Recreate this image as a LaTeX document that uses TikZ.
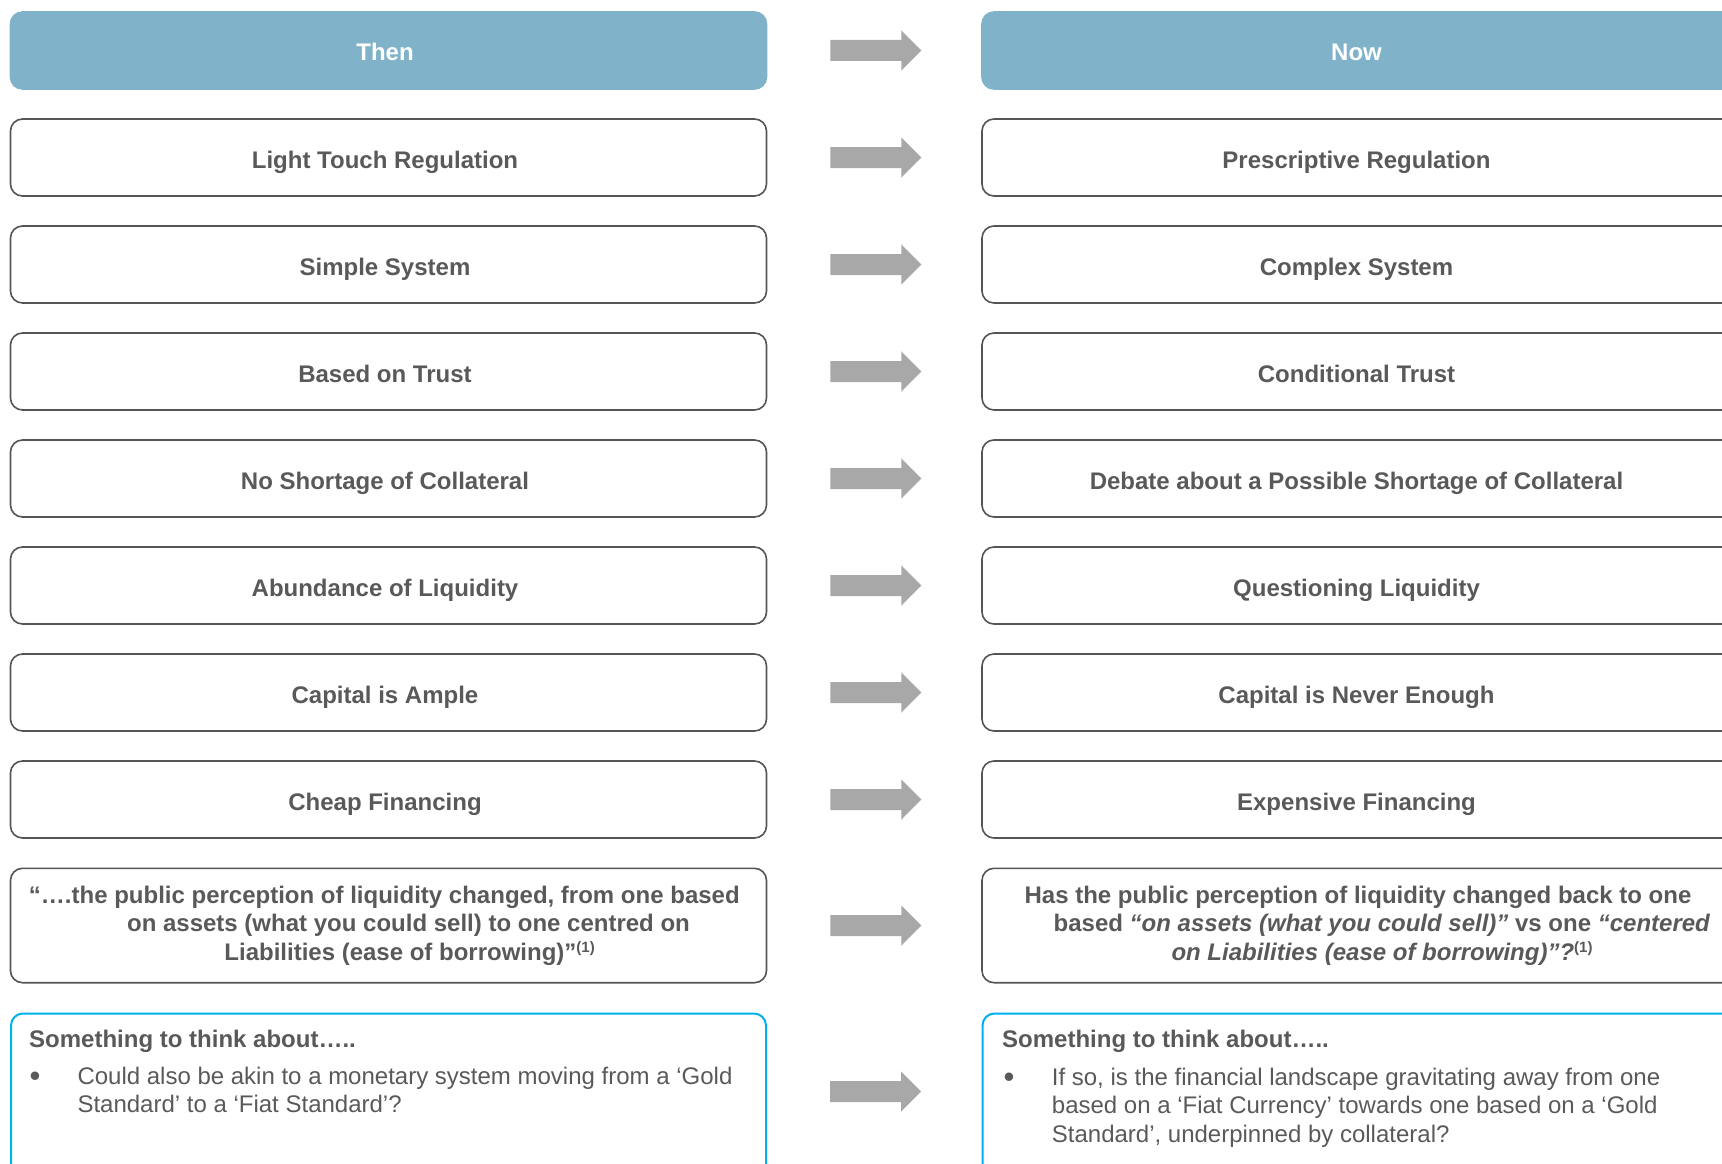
\documentclass[tikz,border=0pt]{standalone}
\usepackage{fontspec}
\setmainfont{Liberation Sans}
\definecolor{hdr}{HTML}{80B3C9}
\definecolor{txt}{HTML}{595959}
\definecolor{brd}{HTML}{555555}
\definecolor{arr}{HTML}{A8A8A8}
\definecolor{cyanb}{HTML}{00B0F0}
\newcommand\refmark{\raisebox{8pt}{\fontsize{15}{15}\selectfont(1)}}
\newcommand\grarrow[1]{\fill[arr, shift={(#1)}] (0,-10.5) -- (71,-10.5) -- (71,-20.2) -- (91,0) -- (71,20.2) -- (71,10.5) -- (0,10.5) -- cycle;}
\begin{document}
\begin{tikzpicture}[x=1pt,y=-1pt,
  box/.style={draw=brd, line width=1.6pt, rounded corners=12pt, minimum width=756pt, minimum height=77pt, inner sep=0pt, text height=21pt, text depth=0pt, font=\fontsize{24}{28.6}\selectfont\bfseries, text=txt, execute at begin node=\kern-7pt},
  hdrbox/.style={box, draw=hdr, fill=hdr, text=white},
  sbox/.style={draw=cyanb, line width=2pt, rounded corners=12pt, minimum width=755pt, minimum height=200pt, inner sep=0pt},
  qline/.style={font=\fontsize{24}{28.6}\selectfont\bfseries, text=txt, inner sep=0pt, anchor=base},
  shead/.style={font=\fontsize{24}{28.6}\selectfont\bfseries, text=txt, inner sep=0pt, anchor=base west},
  stext/.style={font=\fontsize{24}{28.6}\selectfont, text=txt, inner sep=0pt, anchor=base west},
  bullet/.style={font=\fontsize{31}{31}\selectfont, text=txt, inner sep=0pt, anchor=base west}
]
\useasboundingbox (0,0) rectangle (1722,1164);
\clip (0,0) rectangle (1722,1164);
\node[hdrbox] (L0) at (388.5,50.5) {Then};
\node[hdrbox] (R0) at (1360,50.5) {Now};
\foreach \i/\a/\b in {1/Light Touch Regulation/Prescriptive Regulation,
  2/Simple System/Complex System,
  3/Based on Trust/Conditional Trust,
  4/No Shortage of Collateral/Debate about a Possible Shortage of Collateral,
  5/Abundance of Liquidity/Questioning Liquidity,
  6/Capital is Ample/Capital is Never Enough,
  7/Cheap Financing/Expensive Financing}{
  \node[box] (L\i) at (388.5,50.5+107*\i) {\a};
  \node[box] (R\i) at (1360,50.5+107*\i) {\b};
}
\foreach \i in {0,...,7}{
  \coordinate (A\i) at ([xshift=63pt]L\i.east);
  \grarrow{A\i}
}
% quote row
\node[box, minimum height=114.4pt] (LQ) at (388.5,925.5) {};
\node[box, minimum height=114.4pt] (RQ) at (1360,925.5) {};
\coordinate (AQ) at ([xshift=63pt]LQ.east);
\grarrow{AQ}
\node[qline] (lq1) at (384.3,903.3) {“….the public perception of liquidity changed, from one based};
\node[qline] (lq2) at (408.5,931.7) {on assets (what you could sell) to one centred on};
\node[qline] (lq3) at (409.6,960) {Liabilities (ease of borrowing)”\refmark};
\node[qline] (rq1) at (1358,903.3) {Has the public perception of liquidity changed back to one};
\node[qline] (rq2) at (1382,931.7) {based \textit{“on assets (what you could sell)”} vs one \textit{“centered}};
\node[qline] (rq3) at (1382,960) {\textit{on Liabilities (ease of borrowing)”?}\refmark};
% something row
\node[sbox] (LS) at (388.5,1113.5) {};
\node[sbox] (RS) at (1360,1113.5) {};
\coordinate (AS) at ([xshift=63pt,yshift=22pt]LS.east);
\grarrow{AS}
\node[shead] (lsh) at (29,1047) {Something to think about…..};
\node[bullet] (lsb) at (29.5,1086) {•};
\node[stext] (ls1) at (77.3,1084) {Could also be akin to a monetary system moving from a ‘Gold};
\node[stext] (ls2) at (77.3,1112.5) {Standard’ to a ‘Fiat Standard’?};
\node[shead] (rsh) at (1002,1047) {Something to think about…..};
\node[bullet] (rsb) at (1003.5,1087) {•};
\node[stext] (rs1) at (1051.7,1085) {If so, is the financial landscape gravitating away from one};
\node[stext] (rs2) at (1051.7,1113.5) {based on a ‘Fiat Currency’ towards one based on a ‘Gold};
\node[stext] (rs3) at (1051.7,1142) {Standard’, underpinned by collateral?};
\end{tikzpicture}
\end{document}
